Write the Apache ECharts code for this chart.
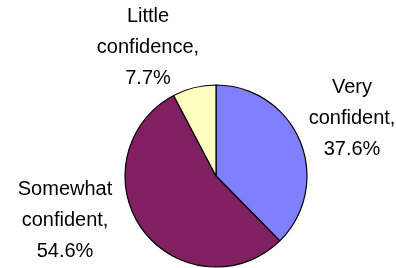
<!DOCTYPE html>
<html><head><meta charset="utf-8">
<script src="https://cdn.jsdelivr.net/npm/echarts@6/dist/echarts.min.js"></script>
<style>html,body{margin:0;padding:0;background:#fff}#c{width:396px;height:268px}</style>
</head><body><div id="c"></div>
<script>
const categories = ["Very confident", "Somewhat confident", "Little confidence"];
const values = [37.6, 54.6, 7.7];
const colors = ["#8080FF", "#802060", "#FFFFC0"];
const labelSpots = [[352, 118], [65, 220], [148, 47]];

const chart = echarts.init(document.getElementById('c'), null, {renderer: 'canvas'});
chart.setOption({
  animation: false,
  backgroundColor: '#ffffff',
  series: [{
    type: 'pie',
    center: [216, 176],
    radius: 91,
    startAngle: 90,
    clockwise: true,
    data: categories.map((n, i) => ({name: n, value: values[i], itemStyle: {color: colors[i]}})),
    itemStyle: {borderColor: '#000', borderWidth: 1.2},
    label: {
      show: true,
      position: 'outside',
      alignTo: 'none',
      overflow: 'none',
      width: 200,
      color: '#000',
      fontFamily: 'Liberation Sans, Arial, sans-serif',
      fontSize: 20,
      lineHeight: 31,
      align: 'center',
      formatter: p => p.name.replace(' ', '\n') + ',\n' + p.value.toFixed(1) + '%'
    },
    labelLine: {show: false},
    labelLayout: p => ({x: labelSpots[p.dataIndex][0], y: labelSpots[p.dataIndex][1], align: 'center', verticalAlign: 'middle'}),
    emphasis: {disabled: true}
  }]
});
</script></body></html>
